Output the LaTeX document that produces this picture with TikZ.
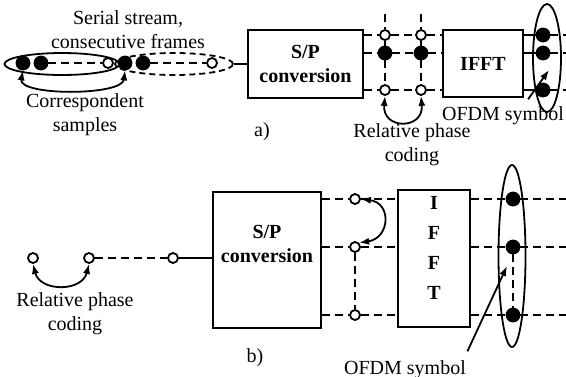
\documentclass[tikz,border=0pt]{standalone}
\usepackage{fontspec}
\setmainfont{Liberation Serif}
\usetikzlibrary{arrows.meta, positioning, shapes.geometric, calc}

\begin{document}
\begin{tikzpicture}[
  x=0.5pt, y=-0.5pt,
  >={Latex[length=5pt,width=3.6pt]}, line width=0.9pt,
  block/.style = {draw, rectangle, inner sep=0pt, font=\bfseries, align=center},
  fdot/.style  = {draw, fill, circle, inner sep=0pt, minimum size=6.5pt},
  odot/.style  = {draw, fill=white, circle, inner sep=0pt, minimum size=5pt},
  grp/.style   = {draw, ellipse, inner sep=0pt},
  dsh/.style   = {dash pattern=on 4pt off 2.5pt},
  lbl/.style   = {align=center, inner sep=0pt},
]
  \useasboundingbox (0,0) rectangle (566,376);

  % a) serial stream
  \node[grp, minimum width=57.5pt, minimum height=11pt]            (aG1) at (62,64)  {};
  \node[grp, densely dashed, minimum width=59pt, minimum height=11pt] (aG2) at (174,64) {};
  \node[fdot] (a1) at (23,63)  {};
  \node[fdot] (a2) at (41,63)  {};
  \node[odot] (a3) at (108,63) {};
  \node[fdot] (a4) at (125,63) {};
  \node[fdot] (a5) at (143,63) {};
  \node[odot] (a6) at (212,63) {};
  \draw[dsh] (a2) -- (a3);
  \draw[dsh] (a5) -- (a6);
  \draw[<->] (a1.south) .. controls (18,96) and (122,96) .. (a4.south);

  \node[lbl] (aSer) at (128,30)  {Serial stream,\\consecutive frames};
  \node[lbl] (aCor) at (85,115)  {Correspondent\\samples};

  \node[block, minimum width=57.5pt, minimum height=34pt] (aSP)   at (305.5,64) {S/P\\conversion};
  \node[block, minimum width=40pt,   minimum height=33.5pt] (aIFFT) at (483,63.5) {IFFT};
  \node (alab) at (262,132) {a)};
  \draw (aG2.east) -- (aSP.west |- aG2.east);

  \foreach \c/\x in {1/385, 2/421} {
    \node[odot] (aC\c1) at (\x,35) {};
    \node[fdot] (aC\c2) at (\x,53) {};
    \node[odot] (aC\c3) at (\x,90) {};
    \coordinate (aT\c) at (\x,14);
    \draw[dsh] (aT\c) -- (aC\c1) -- (aC\c2) -- (aC\c3);
  }

  \node[grp, minimum width=14pt, minimum height=54pt] (aSym) at (547,58) {};
  \foreach \r/\y in {1/35, 2/53, 3/90} {
    \node[fdot] (aD\r) at (543,\y) {};
    \coordinate (aE\r) at (566,\y);
    \draw[dsh] (aSP.east |- aC1\r) -- (aC1\r) -- (aC2\r) -- (aIFFT.west |- aC2\r);
    \draw (aIFFT.east |- aD\r) -- (aD\r);
    \draw[dsh] (aD\r) -- (aE\r);
  }
  \draw[<->] (aC13.south) .. controls (382,130) and (424,130) .. (aC23.south);
  \node[lbl] (aRel) at (412,145) {Relative phase\\coding};

  \node (aOFDM) at (503,116) {OFDM symbol};
  \coordinate (aArr) at (549,70);
  \draw[->] ($(aOFDM.north)+(25,0)$) -- (aArr);

  % b) relative phase coding before S/P
  \node[odot] (b1) at (33,258)  {};
  \node[odot] (b2) at (89,258)  {};
  \node[odot] (b3) at (173,258) {};
  \draw[<->] (b1.south) .. controls (40,292) and (82,292) .. (b2.south);
  \node[lbl] (bRel) at (75,313.5) {Relative phase\\coding};

  \node[block, minimum width=54pt, minimum height=68pt] (bSP) at (267,260) {};
  \node[lbl, font=\bfseries] (bSPt) at (267,244) {S/P\\conversion};
  \draw[dsh] (b2) -- (b3);
  \draw (b3) -- (bSP.west |- b3);
  \node (blab) at (255,358) {b)};

  \node[block, minimum width=36pt, minimum height=68.5pt] (bIFFT) at (434,258.5) {};
  \node[lbl, font=\bfseries] (bIFFTt) at (434,247.5) {I\\[3pt]F\\[3pt]F\\[3pt]T};

  \node[grp, minimum width=13.5pt, minimum height=91pt] (bSym) at (512,256) {};
  \foreach \r/\y in {1/199, 2/247, 3/315} {
    \node[odot] (bC\r) at (355,\y) {};
    \node[fdot] (bD\r) at (513,\y) {};
    \coordinate (bE\r) at (566,\y);
    \draw[dsh] (bSP.east |- bC\r) -- (bC\r) -- (bIFFT.west |- bC\r);
    \draw[dsh] (bIFFT.east |- bD\r) -- (bD\r) -- (bE\r);
  }
  \draw[dsh] (bC2) -- (bC3);
  \draw[dsh] (bD2) -- (bD3);
  \draw[<->] (bC1.east) .. controls (392,203) and (390,238) .. (bC2.north east);

  \node (bOFDM) at (405,370) {OFDM symbol};
  \coordinate (bArr) at (507,266);
  \draw[->] ($(bOFDM.north east)+(-6,-2)$) -- (bArr);
\end{tikzpicture}
\end{document}
